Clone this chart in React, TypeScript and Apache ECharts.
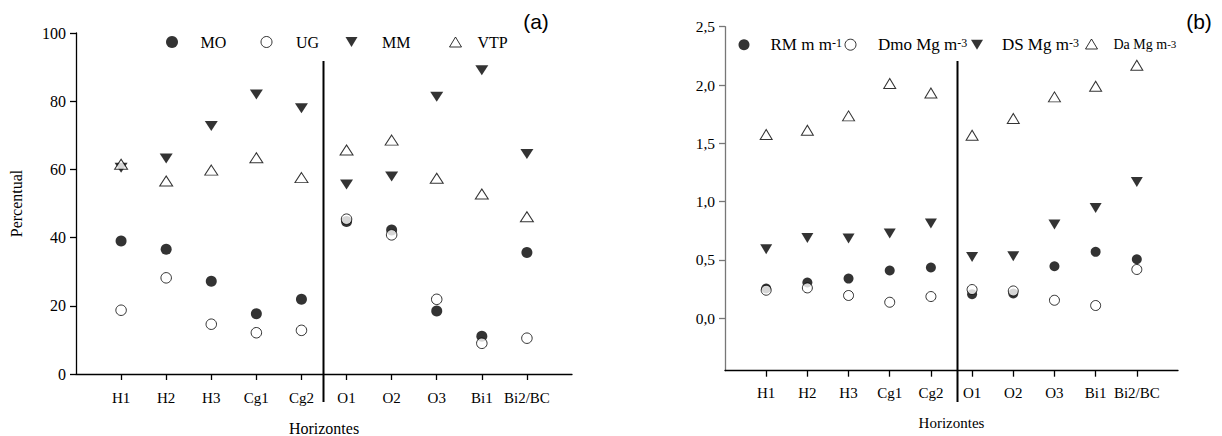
import React, { useEffect, useRef } from "react";
import * as echarts from "echarts";

const horizons = ["H1", "H2", "H3", "Cg1", "Cg2", "O1", "O2", "O3", "Bi1", "Bi2/BC"];
const positions = [1, 2, 3, 4, 5, 6, 7, 8, 9, 10];

// panel (a) – percent
const MO = [39.0, 36.6, 27.2, 17.7, 21.9, 44.7, 42.2, 18.5, 11.1, 35.6];
const UG = [18.7, 28.2, 14.6, 12.1, 12.8, 45.4, 40.8, 21.9, 9.0, 10.5];
const MM = [60.5, 63.2, 72.7, 82.0, 77.9, 55.6, 57.9, 81.3, 89.1, 64.5];
const VTP = [61.5, 56.6, 59.8, 63.4, 57.6, 65.7, 68.6, 57.4, 52.8, 46.1];

// panel (b)
const RM = [0.255, 0.306, 0.34, 0.409, 0.435, 0.206, 0.212, 0.446, 0.569, 0.506];
const Dmo = [0.24, 0.26, 0.195, 0.137, 0.186, 0.246, 0.234, 0.154, 0.109, 0.418];
const DS = [0.592, 0.689, 0.683, 0.726, 0.812, 0.526, 0.532, 0.803, 0.945, 1.169];
const Da = [1.575, 1.612, 1.735, 2.013, 1.932, 1.569, 1.713, 1.898, 1.99, 2.17];

const leftTicks = [0, 20, 40, 60, 80, 100];
const rightTicks = [0, 0.5, 1.0, 1.5, 2.0, 2.5];

const SERIF = "'Liberation Serif', 'Times New Roman', serif";
const SANS = "'Liberation Sans', Arial, sans-serif";
const DOWN_TRI = "path://M0,0 L12,0 L6,10 Z";

const pts = (vals: number[]) => positions.map((p, i) => [p, vals[i]]);

export default function App() {
  const ref = useRef<HTMLDivElement>(null);
  useEffect(() => {
    if (!ref.current) return;
    const chart = echarts.init(ref.current, undefined, { renderer: "svg" });

    const xAxisCommon = (fontSize: number, nameSize: number, nameGap: number, margin: number) => ({
      type: "value" as const,
      min: 0,
      max: 11,
      name: "Horizontes",
      nameLocation: "middle" as const,
      nameGap,
      nameTextStyle: { fontFamily: SERIF, fontSize: nameSize, color: "#000" },
      axisLine: { show: true, onZero: false, lineStyle: { color: "#000", width: 1.3 } },
      axisTick: { show: true, length: 6, customValues: positions, lineStyle: { color: "#000", width: 1.3 } },
      axisLabel: {
        customValues: positions,
        margin,
        fontFamily: SERIF,
        fontSize,
        color: "#000",
        formatter: (v: number) => horizons[Math.round(v) - 1] ?? "",
      },
      splitLine: { show: false },
    });

    const legendItem = (
      name: string,
      icon: string | undefined,
      left: number,
      top: number,
      w: number,
      h: number,
      pad: number,
      rich: any,
      formatter?: any
    ) => ({
      data: [icon ? { name, icon } : { name }],
      left,
      top,
      padding: 0,
      itemWidth: w,
      itemHeight: h,
      selectedMode: false,
      formatter,
      itemStyle: { borderWidth: 1 },
      textStyle: { fontFamily: SERIF, color: "#000", padding: [0, 0, 0, pad], ...rich },
    });

    const supRich = (main: number, sup: number, mainPadTop: number) => ({
      rich: {
        t: { fontFamily: SERIF, fontSize: main, lineHeight: main, padding: [mainPadTop, 0, 0, 0], verticalAlign: "bottom", color: "#000" },
        s: { fontFamily: SERIF, fontSize: sup, lineHeight: sup, padding: [1, 0, 0, 0], verticalAlign: "top", color: "#000" },
      },
    });

    const filledCircle = { color: "#000" };
    const openCircle = { color: "#fff", borderColor: "#000", borderWidth: 1 };
    const filledTri = { color: "#000" };
    const openTri = { color: "#fff", borderColor: "#000", borderWidth: 1 };

    const option: any = {
      animation: false,
      backgroundColor: "#fff",
      grid: [
        { left: 76, top: 33, width: 496, height: 341, outerBoundsMode: "none", containLabel: false },
        { left: 725, top: 26.7, width: 453, height: 344, outerBoundsMode: "none", containLabel: false },
      ],
      xAxis: [
        { ...xAxisCommon(15, 16, 46, 16), gridIndex: 0 },
        { ...xAxisCommon(15, 15, 45, 15), gridIndex: 1 },
      ],
      yAxis: [
        {
          gridIndex: 0,
          type: "value",
          min: 0,
          max: 100,
          interval: 20,
          name: "Percentual",
          nameLocation: "middle",
          nameGap: 52,
          nameTextStyle: { fontFamily: SERIF, fontSize: 16, color: "#000" },
          axisLine: { show: true, lineStyle: { color: "#000", width: 1.3 } },
          axisTick: { show: true, length: 6, lineStyle: { color: "#000", width: 1.3 } },
          axisLabel: { fontFamily: SERIF, fontSize: 16, color: "#000", margin: 10, customValues: leftTicks },
          splitLine: { show: false },
        },
        {
          gridIndex: 1,
          type: "value",
          min: -0.45,
          max: 2.5,
          axisLine: { show: true, lineStyle: { color: "#777", width: 1.3 } },
          axisTick: { show: true, length: 6, customValues: rightTicks, lineStyle: { color: "#777", width: 1.3 } },
          axisLabel: {
            fontFamily: SERIF,
            fontSize: 15.5,
            color: "#000",
            margin: 10,
            customValues: rightTicks,
            formatter: (v: number) => v.toFixed(1).replace(".", ","),
          },
          splitLine: { show: false },
        },
      ],
      legend: [
        legendItem("MO", undefined, 166, 32, 12, 12, 17.5, { fontSize: 16, lineHeight: 20 }),
        legendItem("UG", undefined, 260.5, 32, 11, 11, 19, { fontSize: 16, lineHeight: 20 }),
        legendItem("MM", DOWN_TRI, 345.5, 32, 13, 10, 19, { fontSize: 16, lineHeight: 20 }),
        legendItem("VTP", undefined, 449, 32, 12, 10, 11, { fontSize: 16, lineHeight: 20 }),
        legendItem("RM", undefined, 738.5, 30.2, 11, 11, 16, supRich(17, 12, 6), () => "{t|RM m m}{s|-1}"),
        legendItem("Dmo", undefined, 844.5, 30.2, 11, 11, 17, supRich(17, 12, 6), () => "{t|Dmo Mg m}{s|-3}"),
        legendItem("DS", DOWN_TRI, 971, 30.2, 13, 10, 13.4, supRich(17, 12, 6), () => "{t|DS Mg m}{s|-3}"),
        legendItem("Da", undefined, 1085, 32, 12, 10, 11, supRich(14, 11, 5), () => "{t|Da Mg m}{s|-3}"),
      ],
      series: [
        { name: "MO", type: "scatter", xAxisIndex: 0, yAxisIndex: 0, symbol: "circle", symbolSize: 11, itemStyle: filledCircle, data: pts(MO), z: 3 },
        { name: "UG", type: "scatter", xAxisIndex: 0, yAxisIndex: 0, symbol: "circle", symbolSize: 10.5, itemStyle: openCircle, data: pts(UG), z: 4 },
        { name: "MM", type: "scatter", xAxisIndex: 0, yAxisIndex: 0, symbol: "triangle", symbolRotate: 180, symbolSize: [13, 10], itemStyle: filledTri, data: pts(MM), z: 3 },
        { name: "VTP", type: "scatter", xAxisIndex: 0, yAxisIndex: 0, symbol: "triangle", symbolSize: [13, 10], itemStyle: openTri, data: pts(VTP), z: 4 },
        { name: "RM", type: "scatter", xAxisIndex: 1, yAxisIndex: 1, symbol: "circle", symbolSize: 10, itemStyle: filledCircle, data: pts(RM), z: 3 },
        { name: "Dmo", type: "scatter", xAxisIndex: 1, yAxisIndex: 1, symbol: "circle", symbolSize: 10, itemStyle: openCircle, data: pts(Dmo), z: 4 },
        { name: "DS", type: "scatter", xAxisIndex: 1, yAxisIndex: 1, symbol: "triangle", symbolRotate: 180, symbolSize: [12, 10], itemStyle: filledTri, data: pts(DS), z: 3 },
        { name: "Da", type: "scatter", xAxisIndex: 1, yAxisIndex: 1, symbol: "triangle", symbolSize: [12, 10], itemStyle: openTri, data: pts(Da), z: 4 },
      ],
      graphic: [
        { type: "line", shape: { x1: 323.5, y1: 61, x2: 323.5, y2: 402 }, style: { stroke: "#000", lineWidth: 2 }, z: 10 },
        { type: "line", shape: { x1: 957.5, y1: 61, x2: 957.5, y2: 402 }, style: { stroke: "#000", lineWidth: 2 }, z: 10 },
        { type: "text", x: 536, y: 21, style: { text: "(a)", font: `21px ${SANS}`, fill: "#000", textAlign: "center", textVerticalAlign: "middle" } },
        { type: "text", x: 1199, y: 21, style: { text: "(b)", font: `21px ${SANS}`, fill: "#000", textAlign: "center", textVerticalAlign: "middle" } },
      ],
    };

    chart.setOption(option);
    return () => chart.dispose();
  }, []);

  return (
    <div
      ref={ref}
      style={{ position: "fixed", left: 0, top: 0, width: 1222, height: 436, background: "#fff" }}
    />
  );
}
